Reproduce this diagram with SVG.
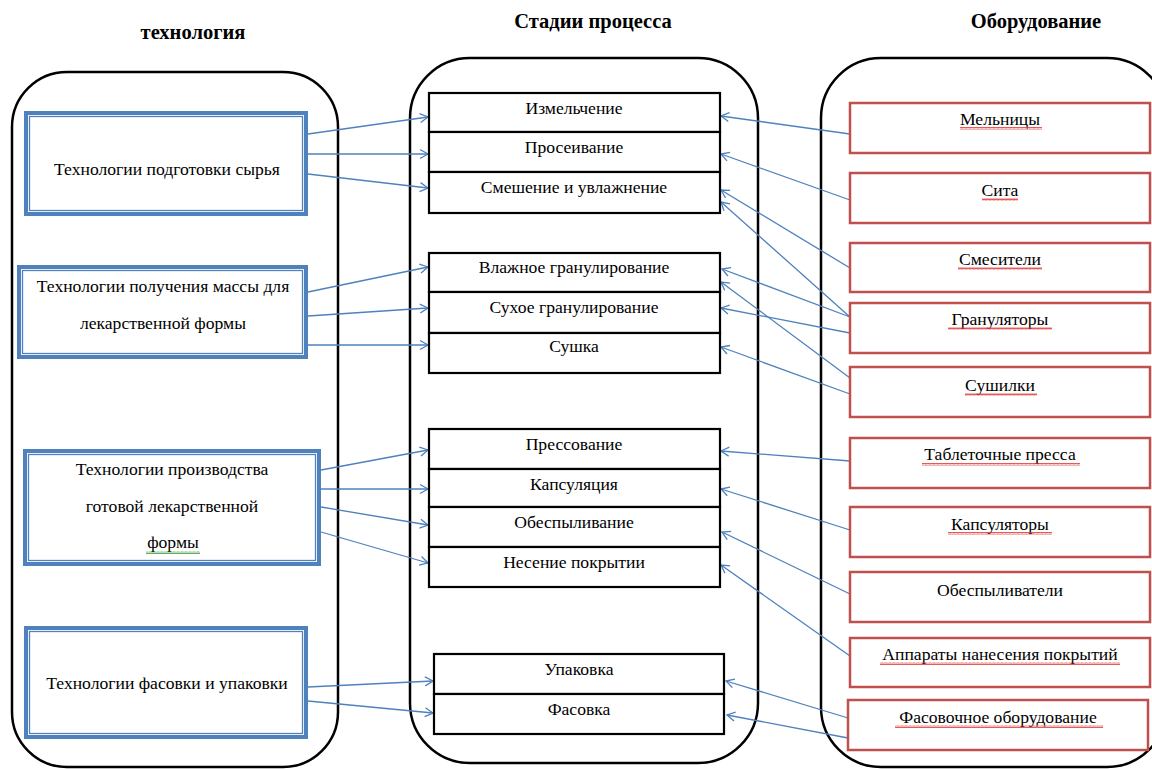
<svg xmlns="http://www.w3.org/2000/svg" width="1152" height="769" viewBox="0 0 1152 769">
<style>
text{font-family:"Liberation Serif","DejaVu Serif","Times New Roman",serif;font-size:17.6px;fill:#000;text-anchor:middle}
.title{font-weight:bold;font-size:20.5px}
.cont{fill:none;stroke:#000;stroke-width:2.5}
.bo{fill:#fff;stroke:#4f81bd;stroke-width:4}
.bi{fill:none;stroke:#4f81bd;stroke-width:1.3}
.cell{fill:#fff;stroke:#000;stroke-width:2.2}
.red{fill:#fff;stroke:#c0504d;stroke-width:2.5}
.conn line{stroke:#4f81bd;stroke-width:1.3}
.wr{fill:url(#wavyRed)}
.wg{fill:url(#wavyGreen)}
</style>
<defs>
<marker id="arr" markerUnits="userSpaceOnUse" markerWidth="12" markerHeight="12" viewBox="-10 -6 12 12" refX="0" refY="0" orient="auto">
<path d="M-8,-4.5 L0,0 L-8,4.5" fill="none" stroke="#4f81bd" stroke-width="1.3"/>
</marker>
<pattern id="wavyRed" width="4" height="3" patternUnits="userSpaceOnUse">
<path d="M0,2.5 L1,0.5 L2,2.5 L3,0.5 L4,2.5" fill="none" stroke="#e03030" stroke-width="0.8"/>
</pattern>
<pattern id="wavyGreen" width="4" height="3" patternUnits="userSpaceOnUse">
<path d="M0,2.5 L1,0.5 L2,2.5 L3,0.5 L4,2.5" fill="none" stroke="#3a9a3a" stroke-width="0.8"/>
</pattern>
</defs>
<rect width="1152" height="769" fill="#fff"/>

<g id="titles">
<text class="title" x="193" y="39">технология</text>
<text class="title" x="593" y="28">Стадии процесса</text>
<text class="title" x="1036" y="28">Оборудование</text>
</g>

<g id="containers">
<rect class="cont" x="12" y="72" width="326" height="695" rx="55"/>
<rect class="cont" x="410" y="58" width="348" height="705" rx="60"/>
<rect class="cont" x="821" y="58" width="346" height="709" rx="60"/>
</g>

<g id="connectors" class="conn">
<line x1="308" y1="134" x2="428" y2="117" marker-end="url(#arr)"/>
<line x1="308" y1="154" x2="428" y2="154" marker-end="url(#arr)"/>
<line x1="308" y1="174" x2="428" y2="188" marker-end="url(#arr)"/>
<line x1="308" y1="292" x2="428" y2="267" marker-end="url(#arr)"/>
<line x1="308" y1="316" x2="428" y2="308" marker-end="url(#arr)"/>
<line x1="308" y1="345" x2="428" y2="345" marker-end="url(#arr)"/>
<line x1="321" y1="470" x2="428" y2="450" marker-end="url(#arr)"/>
<line x1="321" y1="489" x2="428" y2="489" marker-end="url(#arr)"/>
<line x1="321" y1="507" x2="428" y2="525" marker-end="url(#arr)"/>
<line x1="321" y1="532" x2="428" y2="563" marker-end="url(#arr)"/>
<line x1="308" y1="687" x2="433" y2="681" marker-end="url(#arr)"/>
<line x1="308" y1="701" x2="433" y2="713" marker-end="url(#arr)"/>
<line x1="850" y1="134" x2="721" y2="116" marker-end="url(#arr)"/>
<line x1="850" y1="200" x2="721" y2="154" marker-end="url(#arr)"/>
<line x1="850" y1="268" x2="721" y2="190" marker-end="url(#arr)"/>
<line x1="850" y1="317" x2="721" y2="202" marker-end="url(#arr)"/>
<line x1="850" y1="317" x2="722" y2="269" marker-end="url(#arr)"/>
<line x1="850" y1="333" x2="721" y2="308" marker-end="url(#arr)"/>
<line x1="850" y1="378" x2="721" y2="282" marker-end="url(#arr)"/>
<line x1="850" y1="394" x2="721" y2="347" marker-end="url(#arr)"/>
<line x1="850" y1="461" x2="721" y2="451" marker-end="url(#arr)"/>
<line x1="850" y1="530" x2="721" y2="489" marker-end="url(#arr)"/>
<line x1="850" y1="594" x2="722" y2="532" marker-end="url(#arr)"/>
<line x1="850" y1="656" x2="721" y2="565" marker-end="url(#arr)"/>
<line x1="848" y1="718" x2="726" y2="681" marker-end="url(#arr)"/>
<line x1="848" y1="738" x2="727" y2="715" marker-end="url(#arr)"/>
</g>

<g id="tech1">
<rect class="bo" x="26" y="113" width="280" height="101"/>
<rect class="bi" x="29.5" y="116.5" width="273" height="94"/>
<text x="167" y="175">Технологии подготовки сырья</text>
</g>
<g id="tech2">
<rect class="bo" x="19" y="267" width="287" height="90"/>
<rect class="bi" x="22.5" y="270.5" width="280" height="83"/>
<text x="163" y="292">Технологии получения массы для</text>
<text x="163" y="329">лекарственной формы</text>
</g>
<g id="tech3">
<rect class="bo" x="25" y="451" width="294" height="113"/>
<rect class="bi" x="28.5" y="454.5" width="287" height="106"/>
<text x="172" y="475">Технологии производства</text>
<text x="172" y="512">готовой лекарственной</text>
<text x="173" y="548">формы</text>
<rect class="wg" x="146" y="551" width="54" height="3"/>
</g>
<g id="tech4">
<rect class="bo" x="26" y="628" width="280" height="109"/>
<rect class="bi" x="29.5" y="631.5" width="273" height="102"/>
<text x="167" y="689">Технологии фасовки и упаковки</text>
</g>

<g id="stage-izm"><rect class="cell" x="429" y="93" width="291" height="39"/><text x="574" y="114">Измельчение</text></g>
<g id="stage-pros"><rect class="cell" x="429" y="132" width="291" height="40"/><text x="574" y="153">Просеивание</text></g>
<g id="stage-smesh"><rect class="cell" x="429" y="172" width="291" height="41"/><text x="574" y="193">Смешение и увлажнение</text></g>

<g id="stage-vlazh"><rect class="cell" x="429" y="253" width="291" height="39"/><text x="574" y="273">Влажное гранулирование</text></g>
<g id="stage-suh"><rect class="cell" x="429" y="292" width="291" height="41"/><text x="574" y="313">Сухое гранулирование</text></g>
<g id="stage-sush"><rect class="cell" x="429" y="333" width="291" height="40"/><text x="574" y="352">Сушка</text></g>

<g id="stage-press"><rect class="cell" x="429" y="429" width="291" height="40"/><text x="574" y="450">Прессование</text></g>
<g id="stage-kaps"><rect class="cell" x="429" y="469" width="291" height="38"/><text x="574" y="490">Капсуляция</text></g>
<g id="stage-obesp"><rect class="cell" x="429" y="507" width="291" height="40"/><text x="574" y="528">Обеспыливание</text></g>
<g id="stage-nes"><rect class="cell" x="429" y="547" width="291" height="40"/><text x="574" y="568">Несение покрытии</text></g>

<g id="stage-upak"><rect class="cell" x="434" y="654" width="290" height="40"/><text x="579" y="675">Упаковка</text></g>
<g id="stage-fas"><rect class="cell" x="434" y="694" width="290" height="40"/><text x="579" y="715">Фасовка</text></g>

<g id="eq-meln"><rect class="red" x="850" y="103" width="300" height="50"/><text x="1000" y="125">Мельницы</text><rect class="wr" x="960" y="127" width="82" height="3"/></g>
<g id="eq-sita"><rect class="red" x="850" y="173" width="300" height="50"/><text x="1000" y="196">Сита</text><rect class="wr" x="982" y="198" width="36" height="3"/></g>
<g id="eq-smes"><rect class="red" x="850" y="243" width="300" height="49"/><text x="1000" y="265">Смесители</text><rect class="wr" x="958" y="267" width="84" height="3"/></g>
<g id="eq-gran"><rect class="red" x="850" y="303" width="300" height="50"/><text x="1000" y="325">Грануляторы</text><rect class="wr" x="948" y="327" width="104" height="3"/></g>
<g id="eq-sush"><rect class="red" x="850" y="367" width="300" height="50"/><text x="1000" y="391">Сушилки</text><rect class="wr" x="965" y="393" width="72" height="3"/></g>
<g id="eq-press"><rect class="red" x="850" y="438" width="300" height="50"/><text x="1000" y="460">Таблеточные пресса</text><rect class="wr" x="922" y="463" width="158" height="3"/></g>
<g id="eq-kaps"><rect class="red" x="850" y="507" width="300" height="50"/><text x="1000" y="530">Капсуляторы</text><rect class="wr" x="948" y="532" width="104" height="3"/></g>
<g id="eq-obesp"><rect class="red" x="850" y="572" width="300" height="50"/><text x="1000" y="596">Обеспыливатели</text></g>
<g id="eq-app"><rect class="red" x="850" y="638" width="300" height="49"/><text x="1000" y="660">Аппараты нанесения покрытий</text><rect class="wr" x="880" y="662" width="240" height="3"/></g>
<g id="eq-fas"><rect class="red" x="848" y="700" width="300" height="50"/><text x="998" y="723">Фасовочное оборудование</text><rect class="wr" x="895" y="725" width="208" height="3"/></g>
</svg>
